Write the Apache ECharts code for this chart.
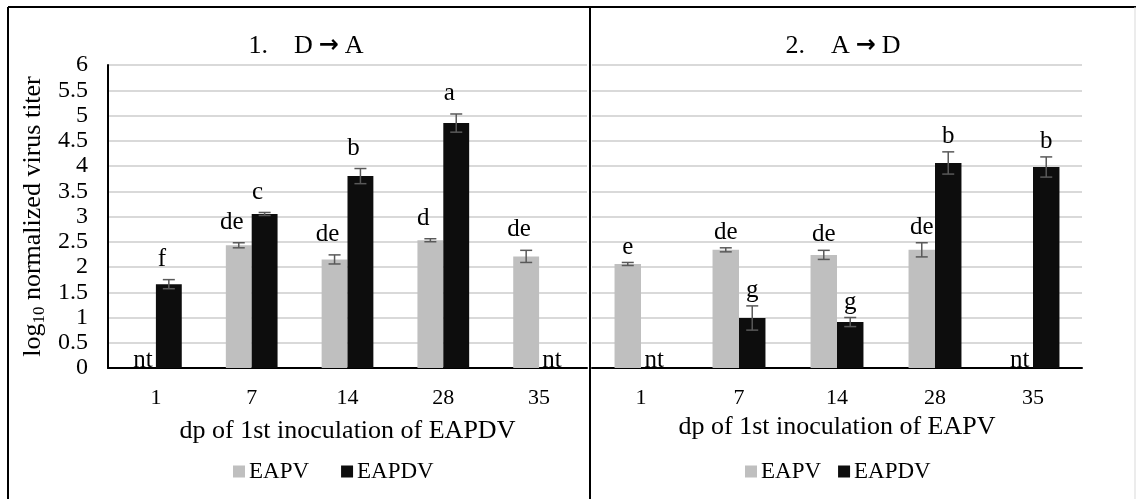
<!DOCTYPE html>
<html>
<head>
<meta charset="utf-8">
<script src="https://cdn.jsdelivr.net/npm/echarts@6/dist/echarts.min.js"></script>
<style>
  html, body { margin: 0; padding: 0; background: #fff; }
  #chart { width: 1136px; height: 499px; }
</style>
</head>
<body>
<div id="chart"></div>
<script>
// days post 1st inoculation
const categories = ['1', '7', '14', '28', '35'];

// panel 1: D -> A
const daEapv = [0, 2.43, 2.15, 2.53, 2.21];
const daEapvErr = [0, 0.05, 0.09, 0.03, 0.12];
const daEapvSig = ['nt', 'de', 'de', 'd', 'de'];
const daEapdv = [1.66, 3.05, 3.80, 4.85, 0];
const daEapdvErr = [0.09, 0.03, 0.15, 0.18, 0];
const daEapdvSig = ['f', 'c', 'b', 'a', 'nt'];

// panel 2: A -> D
const adEapv = [2.06, 2.34, 2.24, 2.34, 0];
const adEapvErr = [0.03, 0.04, 0.09, 0.14, 0];
const adEapvSig = ['e', 'de', 'de', 'de', 'nt'];
const adEapdv = [0, 0.99, 0.91, 4.06, 3.98];
const adEapdvErr = [0, 0.24, 0.09, 0.22, 0.20];
const adEapdvSig = ['nt', 'g', 'g', 'b', 'b'];

const FONT = 'Liberation Serif';
const GREY = '#bfbfbf';
const BLACK = '#0d0d0d';
const BAR_FRAC = 0.27;

const chart = echarts.init(document.getElementById('chart'));

// error bar + significance letter, drawn over the matching bar
function errSeries(gridIdx, vals, errs, sig, side, labelGap, labelShift) {
  return {
    type: 'custom',
    xAxisIndex: gridIdx,
    yAxisIndex: gridIdx,
    z: 5,
    silent: true,
    data: vals.map((v, i) => [i, v, errs[i]]),
    renderItem: (params, api) => {
      const i = api.value(0), v = api.value(1), e = api.value(2);
      const letter = sig[i];
      const band = api.size([1, 0])[0];
      const off = side * band * BAR_FRAC / 2;
      const hi = api.coord([i, v + e]);
      const lo = api.coord([i, v - e]);
      const x = hi[0] + off;
      const children = [];
      if (e > 0) {
        const st = { stroke: '#595959', lineWidth: 1.5 };
        children.push({ type: 'line', shape: { x1: x, y1: hi[1], x2: x, y2: lo[1] }, style: st });
        children.push({ type: 'line', shape: { x1: x - 6, y1: hi[1], x2: x + 6, y2: hi[1] }, style: st });
        children.push({ type: 'line', shape: { x1: x - 6, y1: lo[1], x2: x + 6, y2: lo[1] }, style: st });
      }
      const isNt = letter === 'nt';
      children.push({
        type: 'text',
        x: x + (isNt ? 0 : labelShift),
        y: isNt ? hi[1] + 5 : hi[1] - labelGap,
        style: {
          text: letter,
          fill: '#000',
          font: '25px "' + FONT + '"',
          align: 'center',
          verticalAlign: 'bottom'
        }
      });
      return { type: 'group', children };
    }
  };
}

function barSeries(gridIdx, name, vals, color) {
  return {
    type: 'bar',
    name,
    xAxisIndex: gridIdx,
    yAxisIndex: gridIdx,
    data: vals,
    barWidth: (BAR_FRAC * 100) + '%',
    barGap: '0%',
    itemStyle: { color },
    silent: true
  };
}

function xAxis(gridIdx, name, gap) {
  return {
    type: 'category',
    gridIndex: gridIdx,
    data: categories,
    axisLine: { lineStyle: { color: '#000', width: 2 } },
    axisTick: { show: false },
    axisLabel: { color: '#000', fontFamily: FONT, fontSize: 22, margin: 19 },
    name,
    nameLocation: 'middle',
    nameGap: gap,
    nameTextStyle: { color: '#000', fontFamily: FONT, fontSize: 26 }
  };
}

function yAxis(gridIdx, showLabels) {
  return {
    type: 'value',
    gridIndex: gridIdx,
    min: 0,
    max: 6,
    interval: 0.5,
    axisLine: { show: showLabels, lineStyle: { color: '#000', width: 2 } },
    axisTick: { show: false },
    axisLabel: { show: showLabels, color: '#000', fontFamily: FONT, fontSize: 24, margin: 20 },
    splitLine: { lineStyle: { color: '#d9d9d9', width: 2 } }
  };
}

function legend(left, gap) {
  return {
    left,
    top: 455,
    itemWidth: 12,
    itemHeight: 12,
    itemGap: gap,
    icon: 'rect',
    textStyle: { color: '#000', fontFamily: FONT, fontSize: 23, padding: [0, 0, 0, -1] },
    data: ['EAPV', 'EAPDV']
  };
}

const titleRich = {
  t: { color: '#000', fontFamily: FONT, fontSize: 26, fontWeight: 'normal' },
  a: { color: '#000', fontFamily: 'DejaVu Sans', fontWeight: 'bold', fontSize: 24, padding: [0, 6, 0, 6] }
};

const option = {
  animation: false,
  backgroundColor: '#fff',
  title: [
    { text: '{t|1.    D}{a|\u2192}{t|A}', left: 301, top: 28, textAlign: 'center',
      textStyle: { fontWeight: 'normal', rich: titleRich } },
    { text: '{t|2.    A}{a|\u2192}{t|D}', left: 838, top: 28, textAlign: 'center',
      textStyle: { fontWeight: 'normal', rich: titleRich } }
  ],
  legend: [legend(228, 32), legend(740, 17)],
  grid: [
    { left: 108, top: 65, width: 479, height: 303 },
    { left: 592, top: 65, width: 490, height: 303 }
  ],
  xAxis: [
    xAxis(0, 'dp of 1st inoculation of EAPDV', 50),
    xAxis(1, 'dp of 1st inoculation of EAPV', 46)
  ],
  yAxis: [
    Object.assign(yAxis(0, true), {
      name: '{m|log}{s|10}{m| normalized virus titer}',
      nameLocation: 'middle',
      nameRotate: 90,
      nameGap: 60,
      nameTextStyle: {
        rich: {
          m: { color: '#000', fontFamily: FONT, fontSize: 26, lineHeight: 30, verticalAlign: 'middle' },
          s: { color: '#000', fontFamily: FONT, fontSize: 17, lineHeight: 30, verticalAlign: 'bottom', padding: [10, 0, 0, 0] }
        }
      }
    }),
    yAxis(1, false)
  ],
  series: [
    barSeries(0, 'EAPV', daEapv, GREY),
    barSeries(0, 'EAPDV', daEapdv, BLACK),
    errSeries(0, daEapv, daEapvErr, daEapvSig, -1, 8, -7),
    errSeries(0, daEapdv, daEapdvErr, daEapdvSig, 1, 8, -7),
    barSeries(1, 'EAPV', adEapv, GREY),
    barSeries(1, 'EAPDV', adEapdv, BLACK),
    errSeries(1, adEapv, adEapvErr, adEapvSig, -1, 3, 0),
    errSeries(1, adEapdv, adEapdvErr, adEapdvSig, 1, 3, 0)
  ],
  graphic: [
    { type: 'line', shape: { x1: 8, y1: 7, x2: 1136, y2: 7 }, style: { stroke: '#000', lineWidth: 2 } },
    { type: 'line', shape: { x1: 8, y1: 7, x2: 8, y2: 499 }, style: { stroke: '#000', lineWidth: 2 } },
    { type: 'line', shape: { x1: 590, y1: 7, x2: 590, y2: 499 }, style: { stroke: '#000', lineWidth: 2 } },
    { type: 'line', shape: { x1: 1135, y1: 7, x2: 1135, y2: 499 }, style: { stroke: '#d9d9d9', lineWidth: 1 } }
  ]
};

chart.setOption(option);
</script>
</body>
</html>
